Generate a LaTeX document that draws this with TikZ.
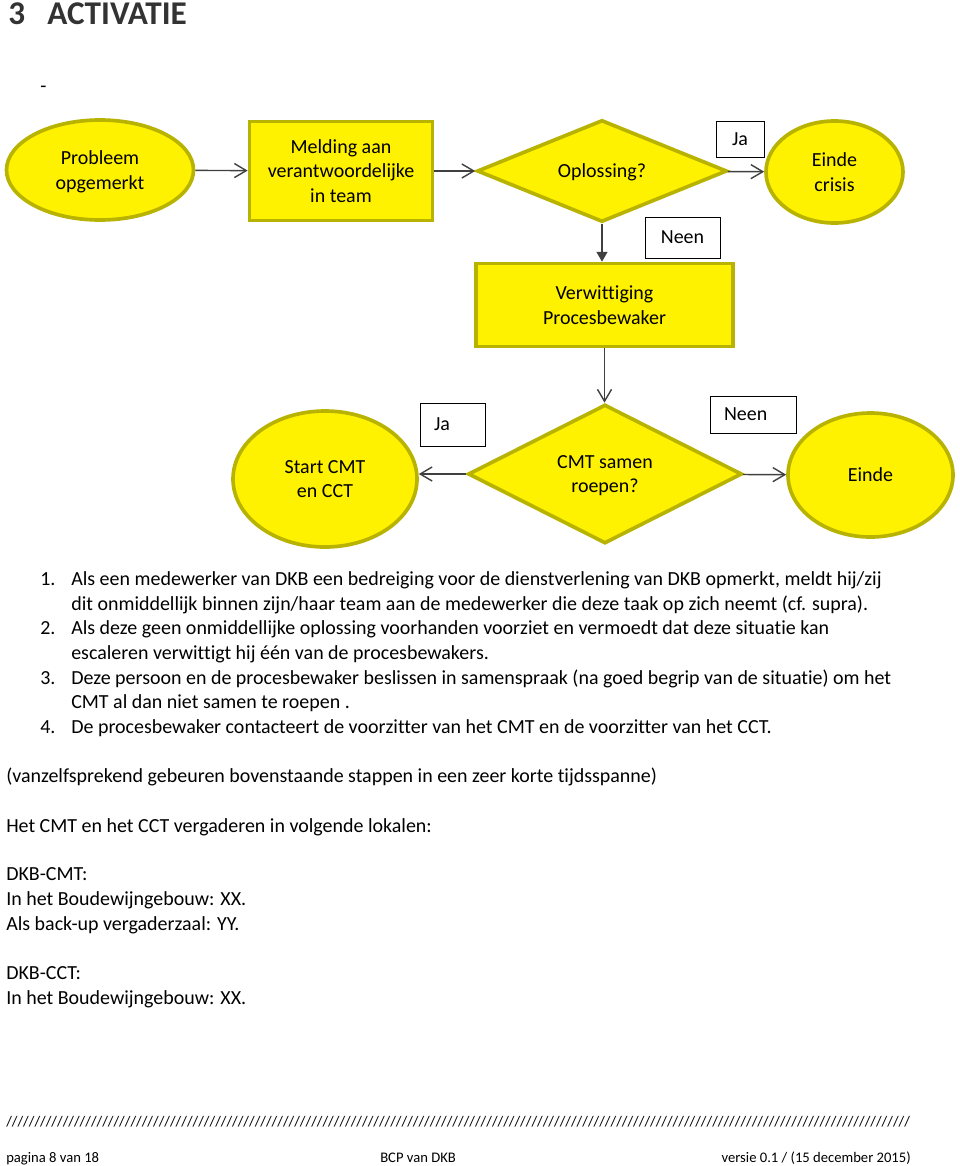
\documentclass[tikz,border=0pt]{standalone}
\usepackage{fontspec}
\setmainfont{Carlito}[Ligatures=NoCommon]
\usetikzlibrary{shapes.geometric,arrows.meta}
\definecolor{geel}{RGB}{255,242,0}
\definecolor{olijf}{RGB}{184,178,0}
\definecolor{lijn}{RGB}{64,64,64}
\definecolor{kop}{RGB}{51,51,51}
\newcommand{\pix}{0.025cm}
\newcommand{\tekst}{\fontsize{14.2}{17.4}\selectfont}
\newcommand{\voet}{\fontsize{10.4}{12.6}\selectfont}

\begin{document}
\begin{tikzpicture}[x=0.025cm, y=-0.025cm,
        term/.style={ellipse, draw=olijf, fill=geel, line width=2.6pt, inner sep=0pt, text depth=0pt, align=center, font=\tekst},
        proc/.style={rectangle, draw=olijf, fill=geel, line width=2.6pt, inner sep=0pt, text depth=0pt, align=center, font=\tekst},
        keuze/.style={diamond, draw=olijf, fill=geel, line width=2.6pt, inner sep=0pt, text depth=0pt, align=center, font=\tekst},
        antw/.style={rectangle, draw=black, fill=white, line width=0.7pt, inner sep=0pt, font=\tekst},
        arrow/.style={-{Straight Barb[length=8.5pt,width=10pt]}, draw=lijn, line width=1pt},
        pijlvol/.style={-{Triangle[length=7pt,width=7.8pt]}, draw=lijn, fill=lijn, line width=1pt},
        regel/.style={anchor=base west, inner sep=0pt, font=\tekst}
    ]
    \useasboundingbox (0,0) rectangle (960,1166);
    % Heading
    \node[anchor=base west, inner sep=0pt, text=kop, font=\fontsize{23.6}{28}\selectfont\bfseries] (kopnr) at (8,24) {3};
    \node[anchor=base west, inner sep=0pt, text=kop, font=\fontsize{23.6}{28}\selectfont\bfseries] (koptitel) at (47,24) {ACTIVATIE};
    \node[regel] (streep) at (40,92) {-};
    % Flowchart nodes
    \node[term, minimum width=187*\pix, minimum height=100*\pix] (prob) at (100,170) {Probleem\\opgemerkt};
    \node[proc, minimum width=183*\pix, minimum height=99*\pix] (meld) at (341,171) {Melding aan\\verantwoordelijke\\in team};
    \node[keuze, minimum width=250*\pix, minimum height=99*\pix] (opl) at (602,171) {Oplossing?};
    \node[term, minimum width=137*\pix, minimum height=102*\pix] (eindecrisis) at (834.5,172) {Einde\\crisis};
    \node[antw, minimum width=48*\pix, minimum height=36*\pix] (jaA) at (740,139) {Ja};
    \node[antw, minimum width=75*\pix, minimum height=41*\pix] (neenA) at (682.5,237.5) {Neen};
    \node[proc, minimum width=257*\pix, minimum height=83*\pix] (verw) at (604.5,305) {Verwittiging\\Procesbewaker};
    \node[keuze, minimum width=274*\pix, minimum height=139*\pix] (cmt) at (605,474) {CMT samen\\roepen?};
    \node[term, minimum width=184*\pix, minimum height=136*\pix] (start) at (325,479) {Start CMT\\en CCT};
    \node[term, minimum width=165*\pix, minimum height=124*\pix] (einde) at (870.5,475) {Einde};
    \node[antw, text width=37*\pix, inner xsep=14*\pix, minimum height=43*\pix, align=left] (jaB) at (452.5,424.5) {Ja};
    \node[antw, text width=58*\pix, inner xsep=14*\pix, minimum height=37*\pix, align=left] (neenB) at (753,414.5) {Neen};
    % Connectors
    \draw[arrow] (prob) -- (meld);
    \draw[arrow] (meld) -- (opl);
    \draw[arrow] (opl) -- (eindecrisis);
    \draw[pijlvol] (opl.south) -- (opl.south |- verw.north);
    \draw[arrow] (verw.south) -- (verw.south |- cmt.north);
    \draw[arrow] (cmt.west) -- (cmt.west -| start.east);
    \draw[arrow] (cmt) -- (einde);
    % Text
    \node[regel] (n1) at (40,585) {1.};
    \node[regel] (r1a) at (71,585) {Als een medewerker van DKB een bedreiging voor de dienstverlening van DKB opmerkt, meldt hij/zij};
    \node[regel] (r1b) at (71,610) {dit onmiddellijk binnen zijn/haar team aan de medewerker die deze taak op zich neemt (cf. supra).};
    \node[regel] (n2) at (40,634.5) {2.};
    \node[regel] (r2a) at (71,634.5) {Als deze geen onmiddellijke oplossing voorhanden voorziet en vermoedt dat deze situatie kan};
    \node[regel] (r2b) at (71,659) {escaleren verwittigt hij één van de procesbewakers.};
    \node[regel] (n3) at (40,684) {3.};
    \node[regel] (r3a) at (71,684) {Deze persoon en de procesbewaker beslissen in samenspraak (na goed begrip van de situatie) om het};
    \node[regel] (r3b) at (71,708.5) {CMT al dan niet samen te roepen .};
    \node[regel] (n4) at (40,733) {4.};
    \node[regel] (r4a) at (71,733) {De procesbewaker contacteert de voorzitter van het CMT en de voorzitter van het CCT.};
    \node[regel] (opm) at (6,782) {(vanzelfsprekend gebeuren bovenstaande stappen in een zeer korte tijdsspanne)};
    \node[regel] (lok) at (6,832) {Het CMT en het CCT vergaderen in volgende lokalen:};
    \node[regel] (dkbcmt) at (6,880) {DKB-CMT:};
    \node[regel] (cmt1) at (6,905) {In het Boudewijngebouw: XX.};
    \node[regel] (cmt2) at (6,930) {Als back-up vergaderzaal: YY.};
    \node[regel] (dkbcct) at (6,979) {DKB-CCT:};
    \node[regel] (cct1) at (6,1004) {In het Boudewijngebouw: XX.};
    % Footer
    \node[anchor=base west, inner sep=0pt, font=\voet] (schuin) at (6,1126) {\makebox[22.6cm]{\xleaders\hbox{/}\hfill}};
    \node[anchor=base west, inner sep=0pt, font=\voet] (pagina) at (6,1162) {pagina 8 van 18};
    \node[anchor=base west, inner sep=0pt, font=\voet] (titel) at (380,1162) {BCP van DKB};
    \node[anchor=base east, inner sep=0pt, font=\voet] (versie) at (911,1162) {versie 0.1 / (15 december 2015)};
\end{tikzpicture}
\end{document}
